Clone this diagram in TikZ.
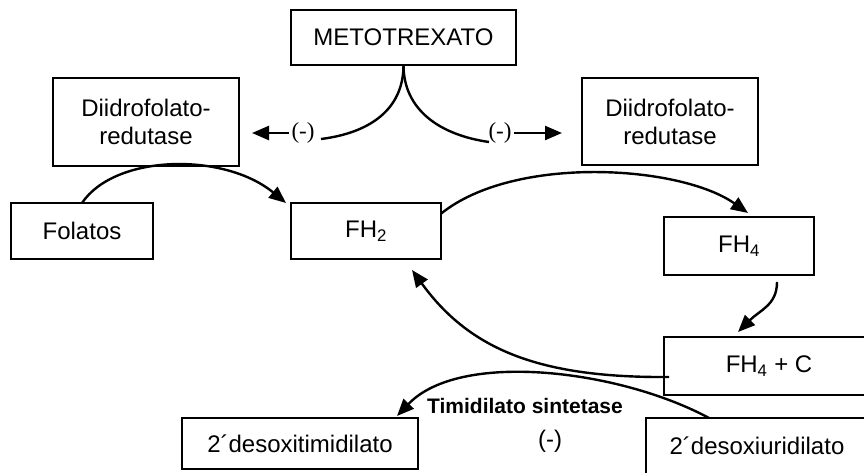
\documentclass[tikz,border=0pt]{standalone}
\usepackage{fontspec}
\setmainfont{Liberation Sans}
\newfontfamily\timesFont{Liberation Serif}
\usetikzlibrary{arrows.meta}

\begin{document}
\begin{tikzpicture}[x=1pt,y=-1pt,
  boxNode/.style={draw=drawColor,line width=1.3pt,inner sep=0pt,outer sep=0pt,align=center,font=\fontsize{24}{28}\selectfont},
  minusNode/.style={text=drawColor,inner sep=0pt,outer sep=0pt},
  linkLine/.style={draw=drawColor,line width=2.4pt},
  linkArrow/.style={draw=drawColor,line width=2.4pt,-{Triangle[length=17pt,width=14pt]}}]
\definecolor{drawColor}{RGB}{0,0,0}
\path[use as bounding box] (0,0) rectangle (864,473);
\begin{scope}
\path[clip] (0,0) rectangle (864,473);

\node[boxNode,minimum width=225,minimum height=55] (metotrexato) at (403.5, 37.5) {METOTREXATO};

\node[boxNode,minimum width=186,minimum height=88] (dhfrLeft) at (146,122) {Diidrofolato-\\redutase};

\node[boxNode,minimum width=176,minimum height=87] (dhfrRight) at (670,121.5) {Diidrofolato-\\redutase};

\node[boxNode,minimum width=142,minimum height=56] (folatos) at ( 82,231) {Folatos};

\node[boxNode,minimum width=150,minimum height=56] (fhDois) at (366,231) {FH\textsubscript{2}};

\node[boxNode,minimum width=150,minimum height=58] (fhQuatro) at (739,246) {FH\textsubscript{4}};

\node[boxNode,minimum width=210,minimum height=58] (fhQuatroC) at (769,366) {FH\textsubscript{4} + C};

\node[boxNode,minimum width=236,minimum height=51] (desoxiTimidilato) at (300,443.5) {2´desoxitimidilato};

\node[boxNode,minimum width=222,minimum height=56] (desoxiUridilato) at (757,446) {2´desoxiuridilato};

\node[minusNode,font=\timesFont\fontsize{23}{27}\selectfont] (minusLeft) at (303,133) {(-)};

\node[minusNode,font=\timesFont\fontsize{23}{27}\selectfont] (minusRight) at (500,133) {(-)};

\node[minusNode,font=\fontsize{24}{28}\selectfont] (minusBottom) at (550,441) {(-)};

\node[minusNode,font=\bfseries\fontsize{21}{25}\selectfont] (sintetase) at (525,406) {Timidilato sintetase};

\coordinate (curveLeftEnd) at (321,139);

\coordinate (curveRightEnd) at (489,142);

\path[linkLine] (metotrexato.south) .. controls +(0,45) and +(48,-6) .. (curveLeftEnd);

\path[linkLine] (metotrexato.south) .. controls +(0,45) and +(-49,-7) .. (curveRightEnd);

\path[linkArrow,shorten <=3pt,shorten >=13pt] (minusLeft.west) -- (minusLeft.west -| dhfrLeft.east);

\path[linkArrow,shorten <=3pt,shorten >=20pt] (minusRight.east) -- (minusRight.east -| dhfrRight.west);

\path[linkArrow] (folatos.north) .. controls +(33,-49) and +(-62,-51) .. ([xshift=-5pt]fhDois.north west);

\path[linkArrow] (fhDois.13) .. controls +(73,-59) and +(-68,-48) .. ([xshift=9pt,yshift=4pt]fhQuatro.north);

\path[linkArrow,shorten <=7pt] ([xshift=38pt]fhQuatro.south) .. controls +(0,30) and +(22,-22) .. ([xshift=-31pt,yshift=5pt]fhQuatroC.north);

\path[linkArrow] ([xshift=5pt,yshift=-11pt]fhQuatroC.west) .. controls +(-129,1) and +(58,80) .. ([xshift=-29pt,yshift=-11pt]fhDois.south east);

\path[linkArrow] ([xshift=-48pt]desoxiUridilato.north) .. controls +(-89,-48) and +(63,-66) .. ([xshift=-21pt,yshift=2pt]desoxiTimidilato.north east);
\end{scope}
\end{tikzpicture}
\end{document}
